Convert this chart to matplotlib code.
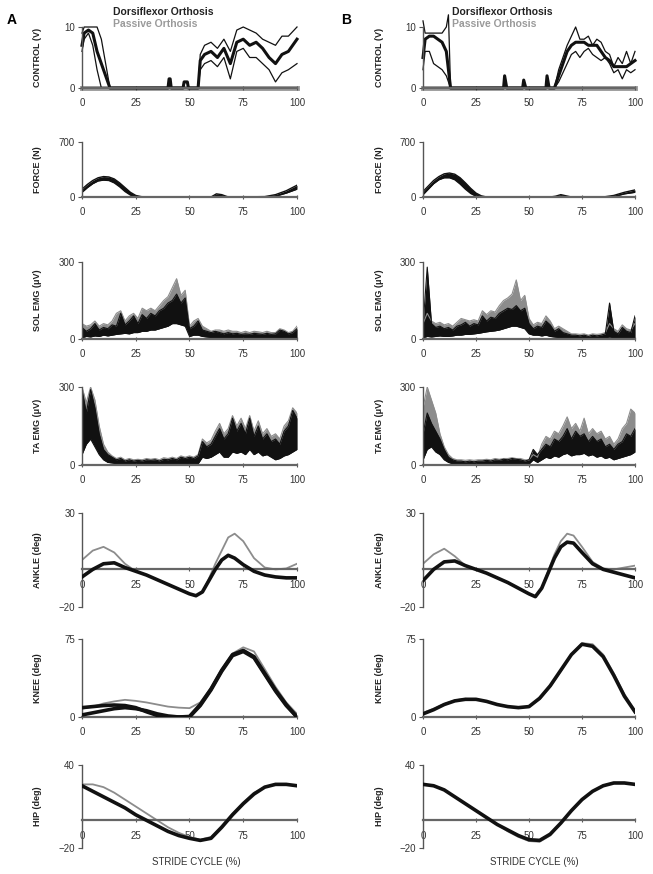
import matplotlib
matplotlib.use('Agg')
import matplotlib.pyplot as plt
import numpy as np

plt.rcParams['font.family'] = ['Liberation Sans', 'DejaVu Sans']

GRIS = '#8c8c8c'
NEGRO = '#111111'

# ---------------- datos: CONTROL (V) ----------------
a_ctrl_x = [0, 1, 3, 5, 7, 9, 11, 13, 40, 40.5, 41, 41.5, 47, 47.5, 49, 49.5, 54, 55, 57, 60, 63, 66, 69, 72, 75, 78, 81, 84, 87, 90, 93, 96, 100]
a_ctrl_med = [7, 9, 9.5, 9, 6, 4, 2, 0, 0, 1.5, 1.5, 0, 0, 1, 1, 0, 0, 4.5, 5.5, 6, 5, 6.5, 4, 7.5, 8, 7, 7.5, 6.5, 5, 4, 5.5, 6, 8]
a_ctrl_sup = [9, 10, 10, 10, 10, 8, 4, 0, 0, 1.5, 1.5, 0, 0, 1, 1, 0, 0, 5.5, 7, 7.5, 6.5, 8, 6, 9.5, 10, 9.5, 9, 8, 7.5, 7, 8.5, 8.5, 10]
a_ctrl_inf = [6, 8, 9, 7, 3, 0, 0, 0, 0, 1.5, 1.5, 0, 0, 1, 1, 0, 0, 3, 4, 4.5, 3.5, 5, 1.5, 6, 6.5, 5, 5, 4, 3, 1, 2.5, 3, 4]

b_ctrl_x = [0, 1, 3, 5, 7, 9, 11, 12, 13, 38, 38.5, 39.5, 47, 47.5, 48.5, 58, 58.5, 59.5, 62, 64, 66, 68, 70, 72, 74, 76, 78, 80, 82, 84, 86, 88, 90, 92, 94, 96, 98, 100]
b_ctrl_med = [5, 8, 8.5, 8.5, 8, 7.5, 6, 3, 0, 0, 2, 0, 0, 1.3, 0, 0, 2, 0, 0, 2, 4, 6, 7, 7.5, 7.5, 7.5, 7, 7, 7, 6, 5, 4.5, 3.5, 3.5, 3.5, 3.5, 4, 4.5]
b_ctrl_sup = [11, 9, 9, 9, 9, 9, 10, 12, 0, 0, 2, 0, 0, 1.3, 0, 0, 2, 0, 0, 3, 5, 7, 8.5, 10, 8, 8, 8.5, 7, 8, 7.5, 6, 5.5, 3.5, 5, 4, 6, 4, 6]
b_ctrl_inf = [3, 6, 6, 4, 3.5, 3, 2, 1, 0, 0, 2, 0, 0, 1.3, 0, 0, 2, 0, 0, 1, 2.5, 4, 5.5, 6, 5, 6, 6.5, 5.5, 5, 4.5, 5, 4, 2.5, 3, 1.5, 3, 2.5, 3]

# ---------------- datos: FORCE (N) ----------------
fuerza_x = [0, 2.5, 5, 7.5, 10, 12.5, 15, 17.5, 20, 22.5, 25, 27.5, 30, 60, 62.5, 65, 67.5, 70, 85, 90, 95, 100]
a_fuerza_sup = [100, 160, 210, 245, 260, 255, 230, 180, 120, 60, 20, 5, 0, 0, 40, 30, 5, 0, 5, 30, 80, 150]
a_fuerza_inf = [60, 120, 170, 205, 215, 210, 180, 130, 70, 25, 5, 0, 0, 0, 15, 10, 0, 0, 0, 10, 50, 100]
b_fuerza_sup = [70, 140, 210, 260, 295, 305, 290, 245, 180, 110, 50, 15, 0, 0, 10, 30, 15, 0, 0, 20, 60, 90]
b_fuerza_inf = [30, 100, 170, 220, 245, 245, 220, 165, 100, 45, 10, 0, 0, 0, 0, 10, 0, 0, 0, 5, 40, 60]

# ---------------- datos: EMG (uV), cada 2 % ----------------
emg_x = list(range(0, 101, 2))
a_sol_sup = [45, 30, 40, 60, 35, 45, 40, 55, 50, 100, 55, 70, 90, 60, 95, 80, 100, 90, 110, 120, 140, 150, 175, 140, 160, 40,
             50, 70, 35, 30, 25, 30, 25, 20, 25, 20, 22, 18, 20, 18, 22, 20, 18, 22, 18, 20, 35, 30, 20, 25, 40]
a_sol_inf = [5, 10, 8, 12, 10, 15, 12, 15, 18, 20, 22, 20, 25, 25, 30, 30, 35, 35, 40, 45, 50, 60, 60, 55, 50, 10,
             15, 15, 10, 8, 6, 5, 5, 4, 4, 4, 4, 4, 4, 4, 4, 4, 4, 4, 4, 4, 5, 5, 4, 4, 5]
a_sol_gris = [60, 50, 55, 70, 50, 60, 55, 70, 100, 110, 70, 90, 100, 80, 120, 110, 120, 110, 130, 150, 165, 200, 235, 170, 190, 50,
              70, 80, 50, 40, 30, 35, 35, 30, 35, 30, 30, 25, 30, 25, 30, 28, 25, 30, 25, 25, 40, 35, 25, 30, 50]

b_sol_sup = [50, 280, 60, 45, 50, 40, 45, 35, 50, 55, 65, 50, 60, 55, 90, 70, 85, 80, 100, 110, 120, 115, 130, 110, 120, 60,
             40, 50, 45, 70, 55, 30, 40, 25, 20, 15, 15, 12, 15, 10, 15, 12, 15, 20, 140, 30, 20, 45, 30, 25, 90]
b_sol_inf = [5, 10, 8, 10, 12, 10, 10, 12, 15, 15, 18, 18, 20, 22, 25, 28, 30, 32, 35, 40, 45, 50, 50, 45, 40, 20,
             15, 15, 12, 15, 10, 8, 6, 5, 5, 5, 5, 5, 5, 5, 5, 5, 5, 5, 8, 5, 5, 5, 5, 5, 5]
b_sol_gris = [60, 100, 70, 60, 65, 55, 60, 50, 65, 80, 75, 70, 75, 70, 110, 95, 110, 105, 130, 150, 160, 175, 230, 150, 170, 80,
              55, 65, 60, 90, 70, 40, 50, 40, 30, 20, 20, 18, 20, 15, 20, 18, 20, 25, 60, 40, 30, 55, 40, 35, 60]

a_ta_sup = [290, 200, 290, 220, 120, 60, 40, 30, 20, 25, 15, 20, 15, 18, 15, 20, 18, 20, 15, 22, 20, 25, 20, 30, 25, 30,
            25, 35, 90, 70, 80, 110, 140, 100, 120, 180, 130, 160, 120, 180, 110, 150, 100, 120, 90, 100, 80, 130, 150, 210, 180]
a_ta_inf = [40, 80, 100, 70, 40, 20, 10, 8, 5, 5, 4, 4, 4, 4, 4, 4, 4, 4, 4, 4, 4, 4, 4, 5, 5, 5,
            5, 5, 30, 25, 30, 40, 50, 30, 30, 50, 45, 50, 40, 60, 40, 50, 35, 40, 30, 20, 25, 35, 40, 50, 60]
a_ta_gris = [300, 240, 300, 250, 150, 80, 50, 35, 25, 30, 20, 25, 20, 22, 20, 25, 22, 25, 20, 28, 25, 30, 25, 35, 30, 35,
             30, 40, 100, 85, 95, 130, 160, 120, 140, 190, 150, 180, 140, 190, 130, 170, 120, 140, 110, 120, 100, 150, 170, 220, 200]

b_ta_sup = [120, 200, 160, 130, 100, 60, 30, 20, 15, 15, 12, 15, 12, 15, 15, 18, 15, 20, 18, 22, 20, 25, 22, 20, 15, 20,
            60, 40, 60, 80, 70, 100, 90, 110, 140, 100, 130, 110, 120, 90, 110, 90, 100, 70, 80, 60, 80, 90, 120, 110, 140]
b_ta_inf = [20, 60, 70, 50, 40, 20, 10, 5, 4, 4, 4, 4, 4, 4, 4, 4, 4, 4, 4, 4, 4, 4, 4, 4, 4, 4,
            20, 10, 20, 30, 25, 35, 30, 40, 45, 35, 40, 40, 45, 35, 40, 30, 35, 25, 30, 20, 25, 30, 35, 40, 50]
b_ta_gris = [220, 300, 250, 200, 120, 70, 40, 25, 20, 20, 18, 20, 18, 20, 20, 22, 20, 25, 22, 25, 25, 28, 25, 25, 20, 20,
             40, 30, 80, 110, 100, 130, 120, 150, 185, 140, 160, 130, 180, 120, 140, 120, 130, 100, 110, 80, 100, 140, 160, 215, 200]

# ---------------- datos: cinematica (deg) ----------------
tobillo_x = [0, 5, 10, 15, 20, 25, 30, 35, 40, 45, 50, 53, 56, 59, 62, 65, 68, 71, 75, 80, 85, 90, 95, 100]
a_tobillo_df = [-4, 0, 3, 3.5, 1, -1, -3, -5.5, -8, -10.5, -13, -14, -12, -6, 0, 5, 7.5, 6, 2.5, -1, -3, -4, -4.5, -4.5]
a_tobillo_pas = [5, 10, 12, 9, 3, -1, -3, -5.5, -8, -10.5, -13, -14, -12, -5, 3, 10, 17, 19, 15, 6, 1, 0, 0.5, 3]
b_tobillo_df = [-6, 0, 4, 4.5, 2, 0, -2, -4.5, -7, -10, -13, -14.5, -10, -2, 6, 12, 14.5, 14, 9, 3, 0, -1.5, -3, -4.5]
b_tobillo_pas = [3, 8, 11, 7, 2, 0, -2, -4.5, -7, -10, -13, -14.5, -10, -1, 8, 15, 19, 18, 12, 4, 0.5, 0, 1, 2]

rodilla_x = list(range(0, 101, 5))
a_rodilla_df = [9, 10, 11, 11.5, 11, 9, 5, 1.5, 0, 0, 0.5, 12, 27, 45, 60, 64, 58, 42, 26, 12, 0]
a_rodilla_df2 = [2, 4, 6, 8, 9, 8, 6, 3, 1, 0, 0, 11, 26, 44, 59, 63, 57, 41, 25, 11, 0]
a_rodilla_pas = [8, 10, 13, 15, 16.5, 15.5, 14, 12, 10, 9, 8.5, 14, 28, 46, 61, 67, 63, 46, 29, 14, 3]
b_rodilla_df = [3, 7, 12, 15.5, 17, 17, 15, 12, 10, 9, 10, 18, 30, 45, 60, 70, 68, 58, 40, 20, 5]
b_rodilla_pas = [4, 8, 12.5, 16, 17.5, 17, 15, 12, 10, 9, 10, 17, 29, 44, 60, 71, 70, 60, 42, 22, 6]

cadera_x = list(range(0, 101, 5))
a_cadera_df = [25, 21, 17, 13, 9, 4, 0, -4, -8, -11, -13, -14.5, -13, -5, 4, 12, 19, 24, 26, 26, 25]
a_cadera_pas = [26, 26, 24, 20, 15, 10, 5, 0, -5, -9, -12, -14, -12, -4, 5, 13, 20, 24, 26, 26, 25]
b_cadera_df = [26, 25, 22, 17, 12, 7, 2, -3, -7, -11, -14, -14.5, -10, -2, 7, 15, 21, 25, 27, 27, 26]
b_cadera_pas = [26, 25, 22, 17, 12, 7, 2, -3, -8, -12, -15, -15.5, -11, -2, 7, 15, 21, 25, 27, 27, 26]

etiquetas_y = ['CONTROL (V)', 'FORCE (N)', 'SOL EMG (\u03bcV)', 'TA EMG (\u03bcV)', 'ANKLE (deg)', 'KNEE (deg)', 'HIP (deg)']
limites_y = [(0, 10), (0, 700), (0, 300), (0, 300), (-20, 30), (0, 75), (-20, 40)]
ticks_x = [0, 25, 50, 75, 100]

# posiciones en pixeles de la figura (653 x 874)
W, H = 653.0, 874.0
filas_px = [(27, 88), (142, 197), (262, 339), (387, 465), (513, 607), (639, 717), (765, 848)]
cols_px = [(82, 297), (423, 635)]


def estilo_ejes(ax, ylim, cero_eje=False):
    ax.set_xlim(0, 100)
    ax.set_ylim(*ylim)
    for lado in ['top', 'right']:
        ax.spines[lado].set_visible(False)
    ax.spines['left'].set_color('#555555')
    ax.spines['bottom'].set_color('#666666')
    ax.spines['left'].set_linewidth(1.0)
    ax.spines['bottom'].set_linewidth(1.6)
    if cero_eje:
        ax.spines['bottom'].set_position(('data', 0))
    ax.set_xticks(ticks_x)
    ax.set_yticks(list(ylim))
    ax.tick_params(axis='x', direction='inout', length=3, width=0.8, colors='#555555',
                   labelsize=7, labelcolor='#333333', pad=6)
    ax.tick_params(axis='y', direction='out', length=3, width=0.8, colors='#555555',
                   labelsize=7, labelcolor='#333333', pad=2)
    ax.patch.set_alpha(0)


def dibujar_columna(col, datos):
    x0, x1 = cols_px[col]
    axes = []
    for i, (yt, yb) in enumerate(filas_px):
        ax = fig.add_axes([x0 / W, 1 - yb / H, (x1 - x0) / W, (yb - yt) / H])
        estilo_ejes(ax, limites_y[i], cero_eje=(i in (4, 6)))
        axes.append(ax)
        fig.text((38 if col == 0 else 380) / W, 1 - (yt + yb) / 2 / H, etiquetas_y[i],
                 rotation=90, ha='center', va='center', fontsize=6.5, fontweight='bold', color='#222222')

    # control
    ax = axes[0]
    ax.plot([0, 100], [0, 0], color='#9a9a9a', lw=3.5, clip_on=False, zorder=1)
    cx, cm, cs, ci = datos['ctrl']
    ax.plot(cx, cs, color=NEGRO, lw=0.9, clip_on=False)
    ax.plot(cx, ci, color=NEGRO, lw=0.9, clip_on=False)
    ax.plot(cx, cm, color=NEGRO, lw=2.2, clip_on=False)

    # fuerza
    ax = axes[1]
    fs, fi = datos['fuerza']
    ax.fill_between(fuerza_x, fi, fs, color=NEGRO, lw=0)
    ax.plot(fuerza_x, fs, color=NEGRO, lw=1.0)
    ax.plot(fuerza_x, fi, color=NEGRO, lw=1.0)

    # EMG
    for k, clave in [(2, 'sol'), (3, 'ta')]:
        ax = axes[k]
        es, ei, eg = datos[clave]
        ax.fill_between(emg_x, ei, eg, color=GRIS, lw=0)
        ax.plot(emg_x, eg, color=GRIS, lw=0.8)
        ax.fill_between(emg_x, ei, es, color=NEGRO, lw=0)
        ax.plot(emg_x, es, color=NEGRO, lw=0.8)
        ax.plot(emg_x, ei, color=NEGRO, lw=0.8)

    # cinematica
    for k, clave, xs in [(4, 'tobillo', tobillo_x), (5, 'rodilla', rodilla_x), (6, 'cadera', cadera_x)]:
        ax = axes[k]
        series = datos[clave]
        ax.plot(xs, series[-1], color=GRIS, lw=1.3, zorder=2)
        for s in series[:-1]:
            ax.plot(xs, s, color=NEGRO, lw=2.6, zorder=3)
    return axes


fig = plt.figure(figsize=(6.53, 8.74), dpi=100)

datos_a = {
    'ctrl': (a_ctrl_x, a_ctrl_med, a_ctrl_sup, a_ctrl_inf),
    'fuerza': (a_fuerza_sup, a_fuerza_inf),
    'sol': (a_sol_sup, a_sol_inf, a_sol_gris),
    'ta': (a_ta_sup, a_ta_inf, a_ta_gris),
    'tobillo': (a_tobillo_df, a_tobillo_pas),
    'rodilla': (a_rodilla_df, a_rodilla_df2, a_rodilla_pas),
    'cadera': (a_cadera_df, a_cadera_pas),
}
datos_b = {
    'ctrl': (b_ctrl_x, b_ctrl_med, b_ctrl_sup, b_ctrl_inf),
    'fuerza': (b_fuerza_sup, b_fuerza_inf),
    'sol': (b_sol_sup, b_sol_inf, b_sol_gris),
    'ta': (b_ta_sup, b_ta_inf, b_ta_gris),
    'tobillo': (b_tobillo_df, b_tobillo_pas),
    'rodilla': (b_rodilla_df, b_rodilla_pas),
    'cadera': (b_cadera_df, b_cadera_pas),
}

dibujar_columna(0, datos_a)
dibujar_columna(1, datos_b)

# letras de panel, leyenda y eje x
fig.text(12 / W, 1 - 20 / H, 'A', fontsize=10, fontweight='bold', ha='center', va='center')
fig.text(346 / W, 1 - 20 / H, 'B', fontsize=10, fontweight='bold', ha='center', va='center')
for xl in (113, 452):
    fig.text(xl / W, 1 - 12 / H, 'Dorsiflexor Orthosis', fontsize=7.5, fontweight='bold', color='#222222', va='center')
    fig.text(xl / W, 1 - 24 / H, 'Passive Orthosis', fontsize=7.5, fontweight='bold', color='#9a9a9a', va='center')
for xc in (196, 534):
    fig.text(xc / W, 1 - 862 / H, 'STRIDE CYCLE (%)', fontsize=7, color='#333333', ha='center', va='center')

plt.savefig('out.png', dpi=100)
plt.close()
